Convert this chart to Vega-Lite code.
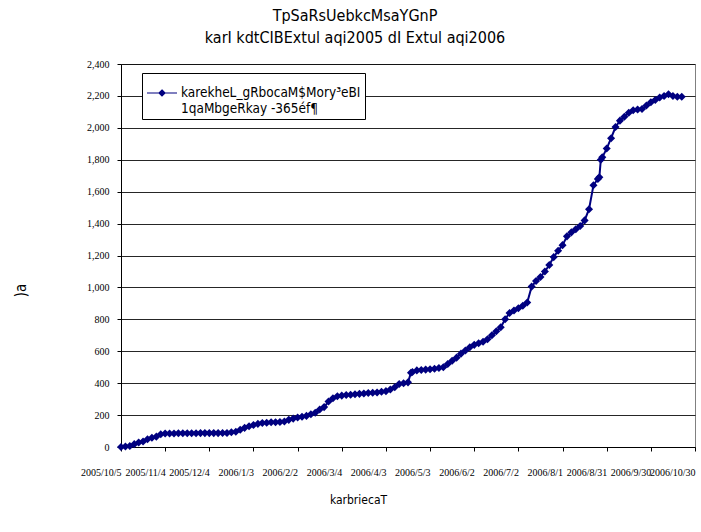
{
  "$schema": "https://vega.github.io/schema/vega-lite/v6.json",
  "width": 574,
  "height": 383,
  "autosize": {"type": "none"},
  "padding": {"left": 121, "top": 64, "right": 6, "bottom": 85},
  "background": "white",
  "title": {
    "text": ["TpSaRsUebkcMsaYGnP", "karI kdtCIBExtul aqi2005 dI Extul aqi2006"],
    "anchor": "middle",
    "dx": -53,
    "offset": 13,
    "font": "DejaVu Sans Condensed",
    "fontSize": 16,
    "fontWeight": "normal",
    "lineHeight": 22,
    "color": "black"
  },
  "config": {
    "view": {"stroke": "#808080", "strokeWidth": 1},
    "axis": {
      "domainColor": "black",
      "tickColor": "black",
      "labelFont": "Liberation Serif",
      "labelFontSize": 10,
      "labelColor": "black",
      "titleFont": "DejaVu Sans Condensed",
      "titleFontWeight": "normal",
      "titleColor": "black",
      "gridColor": "black",
      "gridOpacity": 0.85
    }
  },
  "data": {
    "values": [
      {"date": "2005/10/05", "count": 0},
      {"date": "2005/10/08", "count": 3},
      {"date": "2005/10/11", "count": 6},
      {"date": "2005/10/14", "count": 18},
      {"date": "2005/10/17", "count": 28},
      {"date": "2005/10/20", "count": 35},
      {"date": "2005/10/23", "count": 48},
      {"date": "2005/10/26", "count": 58},
      {"date": "2005/10/29", "count": 65},
      {"date": "2005/11/01", "count": 80},
      {"date": "2005/11/04", "count": 85},
      {"date": "2005/11/07", "count": 85},
      {"date": "2005/11/10", "count": 85},
      {"date": "2005/11/13", "count": 86},
      {"date": "2005/11/16", "count": 86},
      {"date": "2005/11/19", "count": 86},
      {"date": "2005/11/22", "count": 86},
      {"date": "2005/11/25", "count": 86},
      {"date": "2005/11/28", "count": 87},
      {"date": "2005/12/01", "count": 87},
      {"date": "2005/12/04", "count": 87},
      {"date": "2005/12/07", "count": 87},
      {"date": "2005/12/10", "count": 87},
      {"date": "2005/12/13", "count": 88},
      {"date": "2005/12/16", "count": 88},
      {"date": "2005/12/19", "count": 92},
      {"date": "2005/12/22", "count": 96},
      {"date": "2005/12/25", "count": 108},
      {"date": "2005/12/28", "count": 120},
      {"date": "2005/12/31", "count": 130},
      {"date": "2006/01/03", "count": 138},
      {"date": "2006/01/06", "count": 145},
      {"date": "2006/01/09", "count": 150},
      {"date": "2006/01/12", "count": 152},
      {"date": "2006/01/15", "count": 155},
      {"date": "2006/01/18", "count": 155},
      {"date": "2006/01/21", "count": 157},
      {"date": "2006/01/24", "count": 160},
      {"date": "2006/01/27", "count": 170},
      {"date": "2006/01/30", "count": 178},
      {"date": "2006/02/02", "count": 185},
      {"date": "2006/02/05", "count": 190},
      {"date": "2006/02/08", "count": 195},
      {"date": "2006/02/11", "count": 205},
      {"date": "2006/02/14", "count": 215},
      {"date": "2006/02/17", "count": 235},
      {"date": "2006/02/20", "count": 250},
      {"date": "2006/02/23", "count": 285},
      {"date": "2006/02/26", "count": 305},
      {"date": "2006/03/01", "count": 318},
      {"date": "2006/03/04", "count": 322},
      {"date": "2006/03/07", "count": 326},
      {"date": "2006/03/10", "count": 328},
      {"date": "2006/03/13", "count": 330},
      {"date": "2006/03/16", "count": 333},
      {"date": "2006/03/19", "count": 335},
      {"date": "2006/03/22", "count": 338},
      {"date": "2006/03/25", "count": 340},
      {"date": "2006/03/28", "count": 342},
      {"date": "2006/03/31", "count": 346},
      {"date": "2006/04/03", "count": 350},
      {"date": "2006/04/06", "count": 360},
      {"date": "2006/04/09", "count": 375},
      {"date": "2006/04/12", "count": 395},
      {"date": "2006/04/15", "count": 400},
      {"date": "2006/04/18", "count": 405},
      {"date": "2006/04/20", "count": 465},
      {"date": "2006/04/21", "count": 470},
      {"date": "2006/04/24", "count": 480},
      {"date": "2006/04/27", "count": 483},
      {"date": "2006/04/30", "count": 485},
      {"date": "2006/05/03", "count": 487},
      {"date": "2006/05/06", "count": 490},
      {"date": "2006/05/09", "count": 495},
      {"date": "2006/05/12", "count": 500},
      {"date": "2006/05/15", "count": 520},
      {"date": "2006/05/18", "count": 540},
      {"date": "2006/05/21", "count": 560},
      {"date": "2006/05/24", "count": 585},
      {"date": "2006/05/27", "count": 605},
      {"date": "2006/05/30", "count": 625},
      {"date": "2006/06/02", "count": 640},
      {"date": "2006/06/05", "count": 650},
      {"date": "2006/06/08", "count": 660},
      {"date": "2006/06/11", "count": 675},
      {"date": "2006/06/14", "count": 700},
      {"date": "2006/06/17", "count": 725},
      {"date": "2006/06/20", "count": 750},
      {"date": "2006/06/23", "count": 800},
      {"date": "2006/06/26", "count": 840},
      {"date": "2006/06/29", "count": 855},
      {"date": "2006/07/02", "count": 870},
      {"date": "2006/07/05", "count": 885},
      {"date": "2006/07/08", "count": 905},
      {"date": "2006/07/11", "count": 1005},
      {"date": "2006/07/14", "count": 1040},
      {"date": "2006/07/17", "count": 1065},
      {"date": "2006/07/20", "count": 1100},
      {"date": "2006/07/23", "count": 1140},
      {"date": "2006/07/26", "count": 1190},
      {"date": "2006/07/29", "count": 1230},
      {"date": "2006/08/01", "count": 1265},
      {"date": "2006/08/04", "count": 1320},
      {"date": "2006/08/07", "count": 1345},
      {"date": "2006/08/10", "count": 1365},
      {"date": "2006/08/13", "count": 1385},
      {"date": "2006/08/16", "count": 1420},
      {"date": "2006/08/19", "count": 1490},
      {"date": "2006/08/22", "count": 1640},
      {"date": "2006/08/25", "count": 1680},
      {"date": "2006/08/26", "count": 1690},
      {"date": "2006/08/27", "count": 1800},
      {"date": "2006/08/28", "count": 1815},
      {"date": "2006/08/31", "count": 1870},
      {"date": "2006/09/03", "count": 1935},
      {"date": "2006/09/06", "count": 2005},
      {"date": "2006/09/09", "count": 2045},
      {"date": "2006/09/12", "count": 2070},
      {"date": "2006/09/15", "count": 2095},
      {"date": "2006/09/18", "count": 2110},
      {"date": "2006/09/21", "count": 2115},
      {"date": "2006/09/24", "count": 2118},
      {"date": "2006/09/27", "count": 2140},
      {"date": "2006/09/30", "count": 2160},
      {"date": "2006/10/03", "count": 2175},
      {"date": "2006/10/06", "count": 2190},
      {"date": "2006/10/09", "count": 2200},
      {"date": "2006/10/12", "count": 2210},
      {"date": "2006/10/15", "count": 2200},
      {"date": "2006/10/18", "count": 2195},
      {"date": "2006/10/21", "count": 2195}
    ]
  },
  "mark": {
    "type": "line",
    "color": "#000080",
    "strokeWidth": 2,
    "point": {"shape": "diamond", "size": 65, "filled": true, "color": "#000080"}
  },
  "encoding": {
    "x": {
      "field": "date",
      "type": "temporal",
      "scale": {
        "domain": [{"year": 2005, "month": 10, "date": 5}, {"year": 2006, "month": 10, "date": 30}],
        "nice": false
      },
      "axis": {
        "values": [
          {"year": 2005, "month": 10, "date": 5},
          {"year": 2005, "month": 11, "date": 4},
          {"year": 2005, "month": 12, "date": 4},
          {"year": 2006, "month": 1, "date": 3},
          {"year": 2006, "month": 2, "date": 2},
          {"year": 2006, "month": 3, "date": 4},
          {"year": 2006, "month": 4, "date": 3},
          {"year": 2006, "month": 5, "date": 3},
          {"year": 2006, "month": 6, "date": 2},
          {"year": 2006, "month": 7, "date": 2},
          {"year": 2006, "month": 8, "date": 1},
          {"year": 2006, "month": 8, "date": 31},
          {"year": 2006, "month": 9, "date": 30},
          {"year": 2006, "month": 10, "date": 30}
        ],
        "format": "%Y/%-m/%-d",
        "grid": false,
        "labelAlign": "right",
        "labelAngle": 0,
        "labelBaseline": "top",
        "labelPadding": 16,
        "labelOverlap": false,
        "labelFlush": false,
        "tickSize": 4,
        "titleFontSize": 12,
        "titleX": 237,
        "titleY": 52,
        "titleAnchor": null,
        "titleAlign": "center",
        "titleBaseline": "middle"
      },
      "title": "karbriecaT"
    },
    "y": {
      "field": "count",
      "type": "quantitative",
      "scale": {"domain": [0, 2400], "nice": false},
      "axis": {
        "values": [0, 200, 400, 600, 800, 1000, 1200, 1400, 1600, 1800, 2000, 2200, 2400],
        "format": ",.0f",
        "tickSize": 4,
        "labelPadding": 8,
        "titleFontSize": 15,
        "titleX": -101,
        "titleY": 226,
        "titleAngle": 270,
        "titleAlign": "center",
        "titleBaseline": "middle"
      },
      "title": ")a"
    },
    "color": {
      "datum": "karekheL_gRbocaM$Mory³eBI",
      "scale": {"range": ["#000080"]},
      "legend": {
        "title": null,
        "orient": "none",
        "legendX": 21,
        "legendY": 9,
        "strokeColor": "black",
        "fillColor": "white",
        "padding": 4,
        "labelFont": "DejaVu Sans Condensed",
        "labelFontSize": 13.5,
        "labelColor": "black",
        "labelLimit": 400,
        "labelOffset": 3,
        "labelExpr": "['karekheL_gRbocaM$Mory³eBI', '1qaMbgeRkay -365éf¶']",
        "symbolType": "M-1,0H1M0,-0.2L0.2,0L0,0.2L-0.2,0Z",
        "symbolSize": 900,
        "symbolStrokeWidth": 1.2,
        "symbolStrokeColor": "#000080",
        "symbolFillColor": "#000080"
      }
    }
  }
}
